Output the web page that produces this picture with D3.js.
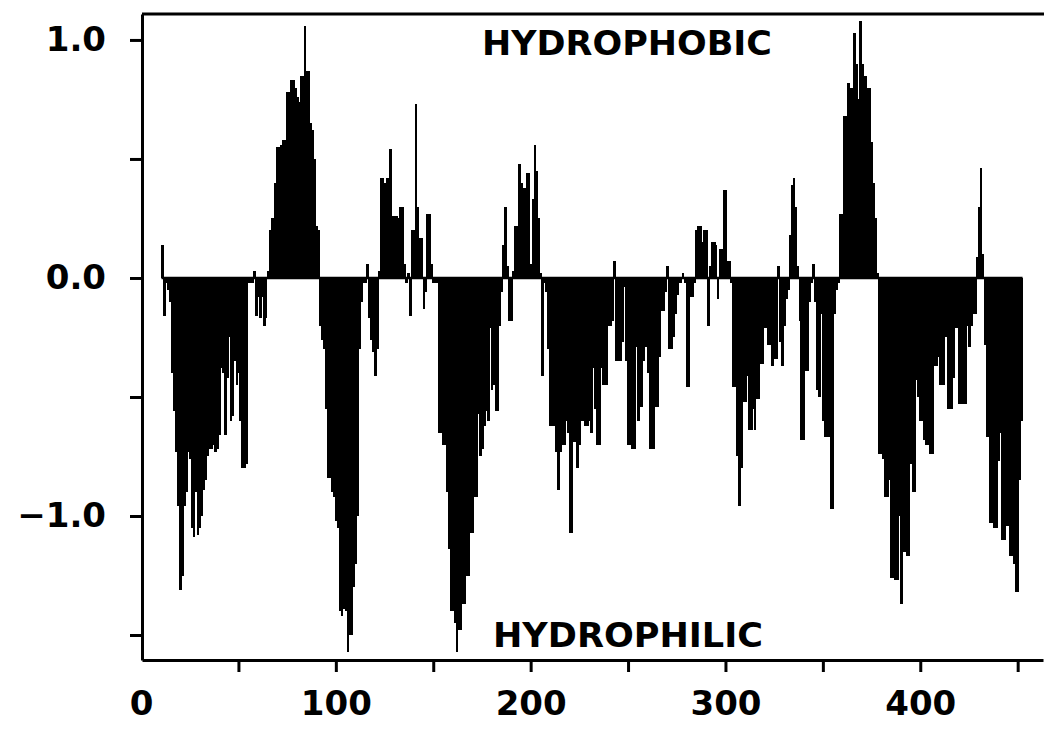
<!DOCTYPE html>
<html>
<head>
<meta charset="utf-8">
<script src="https://cdn.jsdelivr.net/npm/d3@7"></script>
<style>
  body { margin: 0; background: #fff; }
  text { font-family: "DejaVu Sans", sans-serif; font-weight: bold; fill: #000; }
</style>
</head>
<body>
<div id="chart"></div>
<script>
// hydropathy value per residue, first bar is residue 11
const firstResidue = 11;
const hydropathy = [
   0.14, -0.16, -0.02, -0.05, -0.10, -0.40, -0.56, -0.73, -0.96, -1.31,
  -1.25, -0.96, -0.90, -0.73, -0.76, -1.05, -1.09, -0.90, -1.08, -1.05,
  -1.00, -0.89, -0.85, -0.75, -0.72, -0.72, -0.70, -0.73, -0.72, -0.66,
  -0.38, -0.40, -0.66, -0.42, -0.25, -0.60, -0.58, -0.35, -0.45, -0.40,
  -0.60, -0.80, -0.80, -0.78, -0.02, -0.02, -0.02,  0.03, -0.16, -0.08,
  -0.17, -0.08, -0.20, -0.17,  0.03,  0.20,  0.25,  0.25,  0.40,  0.55,
   0.55,  0.56,  0.58,  0.58,  0.78,  0.78,  0.83,  0.83,  0.80,  0.76,
   0.74,  0.85,  0.85,  1.06,  0.87,  0.87,  0.65,  0.62,  0.50,  0.22,
   0.20, -0.20, -0.26, -0.30, -0.55, -0.84, -0.84, -0.90, -0.92, -1.02,
  -1.05, -1.40, -1.42, -1.39, -1.40, -1.57, -1.50, -1.50, -1.30, -1.20,
  -1.00, -0.30, -0.10, -0.02, -0.02,  0.06, -0.17, -0.26, -0.31, -0.41,
  -0.30,  0.03,  0.42,  0.42,  0.40,  0.42,  0.42,  0.54,  0.26,  0.26,
   0.26,  0.25,  0.30,  0.30,  0.06, -0.02,  0.02, -0.16,  0.20,  0.20,
   0.73,  0.30,  0.17,  0.17, -0.13, -0.06,  0.27,  0.27,  0.06, -0.02,
  -0.02, -0.02, -0.65, -0.65, -0.70, -0.70, -0.90, -1.14, -1.40, -1.40,
  -1.45, -1.57, -1.48, -1.48, -1.37, -1.37, -1.25, -1.25, -1.07, -1.07,
  -0.92, -0.92, -0.57, -0.75, -0.72, -0.62, -0.56, -0.60, -0.21, -0.47,
  -0.45, -0.56, -0.56, -0.20, -0.06,  0.14,  0.30,  0.05, -0.18, -0.18,
   0.03,  0.22,  0.22,  0.48,  0.40,  0.38,  0.38,  0.44,  0.44,  0.06,
   0.33,  0.56,  0.45,  0.25,  0.02, -0.41, -0.02, -0.06, -0.30, -0.62,
  -0.62, -0.62, -0.73, -0.89, -0.73, -0.70, -0.70, -0.60, -0.65, -1.07,
  -1.07, -0.69, -0.69, -0.80, -0.70, -0.60, -0.60, -0.62, -0.62, -0.60,
  -0.65, -0.38, -0.55, -0.70, -0.70, -0.38, -0.45, -0.45, -0.45, -0.20,
  -0.20, -0.18,  0.07, -0.35, -0.35, -0.35, -0.27, -0.04, -0.35, -0.70,
  -0.70, -0.72, -0.72, -0.29, -0.60, -0.54, -0.54, -0.35, -0.29, -0.40,
  -0.72, -0.72, -0.72, -0.54, -0.54, -0.33, -0.14, -0.14, -0.06,  0.05,
  -0.30, -0.30, -0.25, -0.15, -0.07, -0.02, -0.02,  0.02, -0.02, -0.46,
  -0.46, -0.08, -0.08, -0.02,  0.20,  0.22,  0.22,  0.15,  0.20,  0.20,
  -0.20,  0.05,  0.15,  0.15,  0.14, -0.09,  0.12,  0.12,  0.37,  0.37,
   0.07,  0.07, -0.02, -0.46, -0.46, -0.75, -0.96, -0.80, -0.52, -0.52,
  -0.41, -0.64, -0.64, -0.55, -0.64, -0.51, -0.51, -0.36, -0.36, -0.21,
  -0.21, -0.28, -0.28, -0.37, -0.34, -0.34,  0.05, -0.27, -0.37, -0.20,
  -0.09, -0.05,  0.18,  0.39,  0.42,  0.30,  0.05, -0.18, -0.68, -0.68,
  -0.39, -0.39, -0.10, -0.02,  0.06, -0.10, -0.47, -0.50, -0.15, -0.60,
  -0.67, -0.67, -0.67, -0.97, -0.97, -0.15, -0.05, -0.02,  0.27,  0.27,
   0.68,  0.68,  0.82,  0.80,  0.80,  1.03,  0.90,  0.75,  1.08,  0.90,
   0.85,  0.85,  0.80,  0.80,  0.57,  0.40,  0.25,  0.02, -0.74, -0.74,
  -0.76, -0.92, -0.92, -0.85, -1.26, -1.26, -1.27, -1.27, -1.00, -1.37,
  -1.15, -1.15, -1.17, -1.17, -0.78, -0.90, -0.90, -0.43, -0.50, -0.60,
  -0.60, -0.68, -0.70, -0.70, -0.74, -0.74, -0.37, -0.37, -0.33, -0.45,
  -0.45, -0.45, -0.25, -0.55, -0.55, -0.55, -0.42, -0.21, -0.21, -0.53,
  -0.53, -0.53, -0.53, -0.20, -0.29, -0.20, -0.15, -0.15,  0.09,  0.30,
   0.46,  0.10, -0.28, -0.67, -0.67, -1.03, -1.03, -1.05, -1.05, -0.77,
  -0.65, -1.10, -1.10, -1.04, -1.04, -1.17, -1.17, -1.20, -1.32, -1.32,
  -0.85, -0.60
];

const xTicks = [50, 100, 150, 200, 250, 300, 350, 400, 450];
const xLabels = [0, 100, 200, 300, 400];
const yTicks = [-1.5, -1.0, -0.5, 0.0, 0.5, 1.0];
const yLabels = [1.0, 0.0, -1.0];
const yLabelText = ["1.0", "0.0", "\u22121.0"];
const topLabel = "HYDROPHOBIC";
const bottomLabel = "HYDROPHILIC";

const width = 1044, height = 735;
const margin = {top: 14, right: 1, bottom: 75, left: 142};

const svg = d3.select("#chart")
    .append("svg")
    .attr("width", width)
    .attr("height", height);

const x = d3.scaleLinear().domain([0.5, 463]).range([margin.left, width - margin.right]);
const y = d3.scaleLinear().domain([-1.605, 1.109]).range([height - margin.bottom, margin.top]);

const data = hydropathy.map((v, i) => ({res: firstResidue + i, v: v}));

// one bar per residue, from zero up or down (slight overlap so the blocks print solid)
svg.append("g")
    .attr("shape-rendering", "crispEdges")
    .selectAll("rect")
    .data(data)
    .join("rect")
    .attr("x", d => x(d.res - 0.5))
    .attr("width", d => x(d.res + 0.5) - x(d.res - 0.5) + 0.8)
    .attr("y", d => y(Math.max(0, d.v)))
    .attr("height", d => Math.abs(y(d.v) - y(0)))
    .attr("fill", "#000");

// zero line under the bars
svg.append("line")
    .attr("x1", x(firstResidue - 0.5))
    .attr("x2", x(firstResidue + hydropathy.length - 0.5))
    .attr("y1", y(0))
    .attr("y2", y(0))
    .attr("stroke", "#000")
    .attr("stroke-width", 2.5);

// y axis with ticks, then its labels
svg.append("g")
    .attr("transform", `translate(${margin.left},0)`)
    .call(d3.axisLeft(y).tickValues(yTicks).tickSize(12).tickSizeOuter(0).tickFormat(""))
    .attr("stroke-width", 3);

svg.append("g")
    .attr("transform", `translate(${margin.left},0)`)
    .call(d3.axisLeft(y).tickValues(yLabels).tickSize(0).tickPadding(36)
        .tickFormat((d, i) => yLabelText[i]))
    .call(g => g.select(".domain").remove())
    .selectAll("text")
    .style("font-size", "34px")
    .style("font-family", "'DejaVu Sans', sans-serif")
    .style("font-weight", "bold");

// x axis with ticks, then its labels
svg.append("g")
    .attr("transform", `translate(0,${height - margin.bottom})`)
    .call(d3.axisBottom(x).tickValues(xTicks).tickSize(12).tickSizeOuter(0).tickFormat(""))
    .attr("stroke-width", 3);

svg.append("g")
    .attr("transform", `translate(0,${height - margin.bottom})`)
    .call(d3.axisBottom(x).tickValues(xLabels).tickSize(0).tickPadding(31).tickFormat(d3.format("d")))
    .call(g => g.select(".domain").remove())
    .selectAll("text")
    .style("font-size", "34px")
    .style("font-family", "'DejaVu Sans', sans-serif")
    .style("font-weight", "bold");

// top border of the frame
svg.append("line")
    .attr("x1", x.range()[0])
    .attr("x2", width)
    .attr("y1", margin.top)
    .attr("y2", margin.top)
    .attr("stroke", "#000")
    .attr("stroke-width", 3);

svg.append("text")
    .attr("x", 627)
    .attr("y", 55)
    .attr("text-anchor", "middle")
    .attr("textLength", 290)
    .attr("lengthAdjust", "spacingAndGlyphs")
    .style("font-size", "34px")
    .text(topLabel);

svg.append("text")
    .attr("x", 628)
    .attr("y", 647)
    .attr("text-anchor", "middle")
    .attr("textLength", 270)
    .attr("lengthAdjust", "spacingAndGlyphs")
    .style("font-size", "34px")
    .text(bottomLabel);
</script>
</body>
</html>
